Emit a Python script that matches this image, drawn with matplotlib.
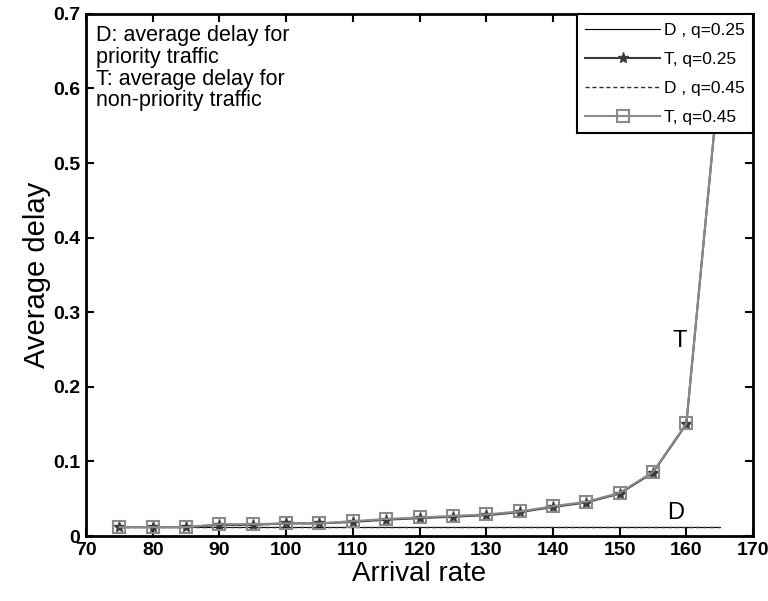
import matplotlib
matplotlib.use("Agg")
import matplotlib.pyplot as plt

plt.rcParams['font.family'] = ['Liberation Sans', 'DejaVu Sans']

rate = [75, 80, 85, 90, 95, 100, 105, 110, 115, 120, 125, 130, 135, 140, 145, 150, 155, 160, 165]
T_q025 = [0.012, 0.012, 0.012, 0.015, 0.015, 0.017, 0.017, 0.019, 0.022, 0.024, 0.026, 0.028, 0.032, 0.039, 0.045, 0.057, 0.085, 0.150, 0.62]
T_q045 = [0.012, 0.012, 0.012, 0.016, 0.016, 0.017, 0.017, 0.020, 0.023, 0.025, 0.027, 0.029, 0.033, 0.040, 0.046, 0.058, 0.086, 0.151, 0.62]
D_q025 = [0.012] * 19
D_q045 = [0.0125] * 19

xticks = [70, 80, 90, 100, 110, 120, 130, 140, 150, 160, 170]
yticks = [0, 0.1, 0.2, 0.3, 0.4, 0.5, 0.6, 0.7]
ytick_labels = ['0', '0.1', '0.2', '0.3', '0.4', '0.5', '0.6', '0.7']

fig = plt.figure(figsize=(7.68, 6.01), dpi=100)
ax = fig.add_axes([0.112, 0.108, 0.8685, 0.869])

ax.plot(rate, D_q025, color='black', lw=0.8, label='D , q=0.25')
ax.plot(rate, T_q025, color='#3a3a3a', lw=1.5, marker='*', ms=8, label='T, q=0.25')
ax.plot(rate, D_q045, color='#303030', lw=1.0, ls='--', dashes=(3, 2), label='D , q=0.45')
ax.plot(rate, T_q045, color='#8a8a8a', lw=1.5, marker='s', ms=9, mfc='none', mec='#8a8a8a', mew=1.5, label='T, q=0.45')

ax.set_xlim(70, 170)
ax.set_ylim(0, 0.7)
ax.set_xticks(xticks)
ax.set_yticks(yticks)
ax.set_xticklabels([str(v) for v in xticks], fontsize=14, fontweight='bold')
ax.set_yticklabels(ytick_labels, fontsize=14, fontweight='bold')
ax.tick_params(direction='in', top=True, right=True, length=6, width=1.5, pad=4)
for s in ax.spines.values():
    s.set_linewidth(2)

ax.set_xlabel('Arrival rate', fontsize=20, labelpad=2)
ax.set_ylabel('Average delay', fontsize=21, labelpad=2)

ax.text(71.5, 0.685, 'D: average delay for\npriority traffic\nT: average delay for\nnon-priority traffic',
        fontsize=15.5, va='top', ha='left', linespacing=1.05)
ax.text(159.0, 0.262, 'T', fontsize=17, ha='center', va='center')
ax.text(158.4, 0.031, 'D', fontsize=17, ha='center', va='center')

leg = ax.legend(loc='upper right', fontsize=12.5, frameon=True, fancybox=False,
                edgecolor='black', framealpha=1, borderaxespad=0, handlelength=4.3,
                handletextpad=0.2, labelspacing=0.8, borderpad=0.5)
leg.get_frame().set_linewidth(1.5)

fig.savefig('out.png', dpi=100)
